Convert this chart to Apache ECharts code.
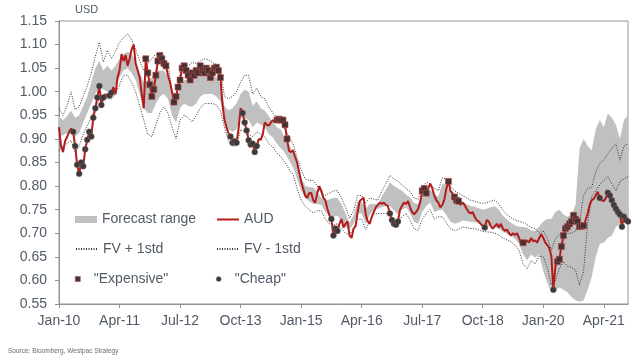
<!DOCTYPE html>
<html><head><meta charset="utf-8">
<script src="https://cdn.jsdelivr.net/npm/echarts@6/dist/echarts.min.js"></script>
<style>html,body{margin:0;padding:0;background:#fff}#c{width:637px;height:360px}</style>
</head><body><div id="c"></div>
<script>
// x axis: months since Jan-2010
const TICK_LABELS = ['Jan-10','Apr-11','Jul-12','Oct-13','Jan-15','Apr-16','Jul-17','Oct-18','Jan-20','Apr-21'];
const TICK_MONTHS = [0,15,30,45,60,75,90,105,120,135];
const AUD_STEP_MONTHS = 0.5;   // AUD sampled twice a month from Jan-10
const FV_STEP_MONTHS = 1;      // fair value / range sampled monthly from Jan-10

const AUD = [
0.925,0.885,0.872,0.895,0.904,0.915,0.922,0.915,0.885,0.845,0.826,0.85,0.842,0.878,0.898,0.915,0.905,0.945,0.965,0.988,1.012,0.972,0.988,0.995,
0.99,0.992,0.998,1.01,0.995,1.03,1.045,1.08,1.065,1.078,1.055,1.07,1.09,1.10,1.06,1.045,1.03,0.995,0.965,1.07,1.04,1.015,0.99,1.005,
1.035,1.065,1.077,1.07,1.06,1.055,1.035,1.02,1.0,0.978,0.99,1.01,1.025,1.05,1.055,1.045,1.035,1.025,1.04,1.035,1.045,1.04,1.055,1.045,
1.04,1.05,1.045,1.03,1.04,1.05,1.052,1.045,1.03,0.975,0.94,0.925,0.912,0.905,0.892,0.895,0.892,0.922,0.965,0.955,0.935,0.918,0.897,0.888,
0.89,0.872,0.885,0.90,0.898,0.91,0.935,0.93,0.928,0.935,0.94,0.935,0.94,0.942,0.94,0.94,0.93,0.90,0.875,0.872,0.876,0.862,0.85,0.83,
0.81,0.795,0.78,0.775,0.785,0.786,0.77,0.765,0.785,0.80,0.79,0.775,0.77,0.752,0.738,0.73,0.695,0.71,0.705,0.72,0.73,0.712,0.72,0.725,
0.695,0.69,0.71,0.715,0.745,0.768,0.772,0.775,0.74,0.725,0.72,0.735,0.745,0.755,0.76,0.765,0.762,0.765,0.76,0.758,0.742,0.728,0.72,0.718,
0.725,0.75,0.758,0.765,0.762,0.768,0.755,0.745,0.74,0.745,0.752,0.765,0.79,0.795,0.785,0.795,0.805,0.795,0.78,0.77,0.765,0.755,0.76,0.772,
0.795,0.81,0.79,0.785,0.777,0.77,0.768,0.76,0.765,0.76,0.752,0.745,0.742,0.745,0.735,0.728,0.725,0.72,0.715,0.712,0.728,0.725,0.715,0.71,
0.715,0.72,0.712,0.72,0.71,0.705,0.708,0.70,0.695,0.70,0.696,0.70,0.69,0.678,0.68,0.678,0.685,0.68,0.69,0.683,0.685,0.68,0.69,0.698,
0.69,0.68,0.675,0.668,0.652,0.58,0.63,0.64,0.645,0.672,0.695,0.71,0.714,0.72,0.725,0.738,0.73,0.725,0.714,0.715,0.716,0.728,0.742,0.76,
0.77,0.773,0.78,0.788,0.775,0.77,0.768,0.775,0.786,0.78,0.77,0.76,0.752,0.745,0.74,0.714,0.735,0.728,0.725
];

const FV_UP = [
0.965,0.95,0.97,1.0,0.962,0.968,0.99,1.012,1.04,1.075,
1.105,1.063,1.088,1.07,1.085,1.105,1.115,1.123,1.11,1.09,
1.065,1.045,1.06,1.07,1.08,1.075,1.07,1.06,1.0,0.98,
1.04,1.058,1.055,1.062,1.06,1.065,1.07,1.068,1.062,1.058,
1.045,0.99,0.985,0.99,1.0,1.02,1.035,1.035,0.995,1.008,
0.99,0.985,0.968,0.955,0.945,0.94,0.92,0.905,0.89,0.86,
0.835,0.815,0.812,0.812,0.80,0.785,0.78,0.785,0.79,0.79,
0.775,0.755,0.732,0.748,0.78,0.78,0.765,0.775,0.772,0.77,
0.79,0.805,0.823,0.815,0.81,0.802,0.795,0.788,0.775,0.772,
0.797,0.808,0.805,0.795,0.79,0.818,0.815,0.80,0.79,0.785,
0.78,0.775,0.77,0.768,0.765,0.763,0.765,0.768,0.77,0.762,
0.748,0.74,0.733,0.728,0.725,0.723,0.718,0.712,0.71,0.70,
0.705,0.69,0.664,0.688,0.698,0.70,0.70,0.70,0.705,0.725,
0.78,0.795,0.797,0.83,0.848,0.855,0.868,0.88,0.89,0.855,
0.885,0.89
];

const FV_DN = [
0.875,0.885,0.89,0.897,0.872,0.885,0.91,0.928,0.945,0.965,
0.985,0.99,0.985,0.985,0.995,1.015,1.035,1.035,1.02,1.0,
0.97,0.94,0.91,0.905,0.93,0.955,0.968,0.955,0.925,0.90,
0.94,0.95,0.945,0.936,0.95,0.965,0.975,0.975,0.975,0.972,
0.96,0.925,0.895,0.885,0.885,0.92,0.915,0.91,0.905,0.915,
0.91,0.905,0.89,0.883,0.87,0.862,0.85,0.836,0.825,0.795,
0.77,0.758,0.75,0.743,0.748,0.748,0.73,0.72,0.718,0.72,
0.71,0.70,0.697,0.71,0.73,0.73,0.708,0.725,0.74,0.742,
0.742,0.742,0.74,0.73,0.725,0.735,0.742,0.728,0.71,0.706,
0.73,0.742,0.75,0.73,0.735,0.735,0.722,0.71,0.706,0.708,
0.713,0.712,0.71,0.71,0.707,0.704,0.703,0.702,0.70,0.696,
0.69,0.686,0.682,0.675,0.664,0.635,0.625,0.642,0.635,0.652,
0.65,0.628,0.59,0.60,0.625,0.64,0.63,0.628,0.622,0.59,
0.62,0.72,0.778,0.79,0.802,0.812,0.82,0.805,0.79,0.81,
0.815,0.82
];

const BAND_LO = [
0.905,0.908,0.912,0.918,0.905,0.912,0.935,0.955,0.975,0.995,
1.01,1.005,1.0,1.0,1.015,1.03,1.045,1.05,1.04,1.025,
0.995,0.965,0.955,0.955,0.975,0.99,0.995,0.985,0.95,0.935,
0.965,0.975,0.97,0.968,0.975,0.99,0.995,0.995,0.995,0.99,
0.98,0.94,0.92,0.915,0.92,0.945,0.945,0.94,0.925,0.935,
0.93,0.925,0.91,0.903,0.89,0.88,0.87,0.855,0.84,0.815,
0.79,0.775,0.768,0.762,0.762,0.76,0.745,0.738,0.735,0.737,
0.726,0.714,0.708,0.72,0.742,0.742,0.72,0.738,0.75,0.752,
0.755,0.758,0.758,0.748,0.74,0.75,0.755,0.742,0.724,0.72,
0.745,0.758,0.765,0.745,0.748,0.75,0.738,0.725,0.72,0.722,
0.727,0.726,0.724,0.724,0.72,0.717,0.716,0.715,0.713,0.709,
0.703,0.699,0.695,0.688,0.678,0.655,0.643,0.655,0.648,0.655,
0.62,0.595,0.575,0.58,0.585,0.58,0.575,0.565,0.558,0.555,
0.558,0.58,0.607,0.65,0.678,0.68,0.69,0.695,0.713,0.72,
0.73,0.74
];

const BAND_HI = [
0.947,0.94,0.948,0.96,0.945,0.95,0.97,0.99,1.02,1.05,
1.065,1.045,1.055,1.045,1.055,1.07,1.08,1.085,1.08,1.065,
1.04,1.02,1.025,1.03,1.045,1.045,1.045,1.03,0.99,0.97,
1.01,1.025,1.025,1.03,1.03,1.035,1.04,1.04,1.035,1.03,
1.015,0.97,0.96,0.965,0.975,0.995,1.005,1.0,0.97,0.98,
0.965,0.96,0.948,0.935,0.925,0.92,0.90,0.888,0.872,0.842,
0.818,0.80,0.798,0.797,0.788,0.775,0.768,0.772,0.775,0.775,
0.762,0.742,0.722,0.738,0.768,0.767,0.752,0.762,0.762,0.762,
0.778,0.792,0.808,0.80,0.795,0.79,0.782,0.776,0.764,0.762,
0.785,0.795,0.792,0.782,0.778,0.805,0.802,0.788,0.778,0.772,
0.768,0.762,0.758,0.756,0.753,0.75,0.752,0.755,0.757,0.75,
0.737,0.729,0.722,0.717,0.714,0.713,0.712,0.706,0.705,0.715,
0.725,0.73,0.73,0.745,0.75,0.74,0.735,0.74,0.76,0.88,
0.90,0.885,0.876,0.92,0.94,0.925,0.954,0.945,0.93,0.90,
0.94,0.95
];

// indices into AUD flagged as "Expensive" / "Cheap"
const EXPENSIVE_IDX = [43,44,45,46,47,48,49,50,51,52,53,
57,58,59,60,61,62,63,64,65,66,67,68,69,70,71,72,73,74,75,76,77,78,79,80,
108,109,110,111,112,113,180,181,182,193,196,197,198,230,
247,248,249,250,251,252,253,254,255,256,257,258,259,260];
const CHEAP_IDX = [7,8,9,10,11,12,13,14,15,16,17,18,19,20,21,22,25,26,
85,86,87,88,91,92,93,94,95,96,97,98,135,136,137,138,164,165,166,167,168,
211,245,268,272,273,274,275,276,277,278,279,280,281,282];

const FONT = '"Liberation Sans", Arial, sans-serif';
const TXT = '#515a66';
const AX = '#8d949e';
const EXP_STYLE = {color: '#463232', borderColor: '#b84a46', borderWidth: 0.6, opacity: 1};
const CHEAP_STYLE = {color: '#3a3a3a', borderColor: '#9c6a6a', borderWidth: 0.4, opacity: 1};
const NO_SYMBOL = {color: 'rgba(0,0,0,0)', borderWidth: 0, opacity: 0};

const audData = AUD.map((v, i) => [i * AUD_STEP_MONTHS, v]);
const fvUpData = FV_UP.map((v, i) => [i * FV_STEP_MONTHS, v]);
const fvDnData = FV_DN.map((v, i) => [i * FV_STEP_MONTHS, v]);
const expData = EXPENSIVE_IDX.map(i => [i * AUD_STEP_MONTHS, AUD[i]]);
const cheapData = CHEAP_IDX.map(i => [i * AUD_STEP_MONTHS, AUD[i]]);

const chart = echarts.init(document.getElementById('c'), null, {renderer: 'canvas'});
const legendBase = {
  orient: 'horizontal', itemWidth: 22, itemHeight: 7, padding: 0, itemGap: 0,
  selectedMode: false,
  textStyle: {fontSize: 14, color: TXT, fontFamily: FONT, lineHeight: 14}
};
chart.setOption({
  animation: false,
  backgroundColor: '#fff',
  grid: {left: 59, right: 9, top: 21, bottom: 56, show: true, borderColor: AX, borderWidth: 1},
  xAxis: {
    type: 'value', min: 0, max: 141, interval: 15,
    axisLine: {show: true, lineStyle: {color: AX, width: 1}},
    axisTick: {show: true, length: 4, lineStyle: {color: AX}, customValues: TICK_MONTHS},
    splitLine: {show: false},
    axisLabel: {
      customValues: TICK_MONTHS, margin: 10, fontSize: 14, color: TXT, fontFamily: FONT,
      formatter: v => { const k = TICK_MONTHS.indexOf(Math.round(v)); return k >= 0 ? TICK_LABELS[k] : ''; }
    }
  },
  yAxis: {
    type: 'value', min: 0.55, max: 1.15, interval: 0.05,
    axisLine: {show: true, lineStyle: {color: AX, width: 1}},
    axisTick: {show: true, length: 4, lineStyle: {color: AX}},
    splitLine: {show: false},
    axisLabel: {margin: 12, fontSize: 14, color: TXT, fontFamily: FONT, formatter: v => v.toFixed(2)}
  },
  legend: [
    Object.assign({}, legendBase, {left: 75, top: 212.5, data: [{name: 'Forecast range', icon: 'rect'}]}),
    Object.assign({}, legendBase, {left: 216, top: 212.5, data: [{name: 'AUD', itemStyle: NO_SYMBOL}]}),
    Object.assign({}, legendBase, {left: 75, top: 242, data: [{name: 'FV + 1std', itemStyle: NO_SYMBOL}]}),
    Object.assign({}, legendBase, {left: 216, top: 242, data: [{name: 'FV - 1std', itemStyle: NO_SYMBOL}]}),
    Object.assign({}, legendBase, {left: 75, top: 272, itemHeight: 5, data: [{name: '"Expensive"', icon: 'path://M0,0h10v10h-10z', itemStyle: EXP_STYLE}]}),
    Object.assign({}, legendBase, {left: 216, top: 272, itemHeight: 5, data: [{name: '"Cheap"', icon: 'circle', itemStyle: CHEAP_STYLE}]})
  ],
  graphic: [
    {type: 'text', left: 75, top: 4, style: {text: 'USD', fontSize: 11, fill: TXT, fontFamily: FONT}},
    {type: 'text', left: 8, top: 348, style: {text: 'Source: Bloomberg, Westpac Strategy', fontSize: 6.5, fill: '#6b6b6b', fontFamily: FONT}}
  ],
  series: [
    {
      name: 'Forecast range', type: 'custom', coordinateSystem: 'cartesian2d', z: 1,
      itemStyle: {color: '#c0c0c0'},
      data: [[0, BAND_LO[0]]],
      encode: {x: 0, y: 1},
      renderItem: function (params, api) {
        const pts = [];
        for (let m = 0; m < BAND_HI.length; m++) pts.push(api.coord([m * FV_STEP_MONTHS, BAND_HI[m]]));
        for (let m = BAND_LO.length - 1; m >= 0; m--) pts.push(api.coord([m * FV_STEP_MONTHS, BAND_LO[m]]));
        return {type: 'polygon', shape: {points: pts}, style: {fill: '#c0c0c0'}};
      }
    },
    {name: 'FV + 1std', type: 'line', data: fvUpData, symbol: 'none', z: 2,
      lineStyle: {color: '#333333', width: 1, type: [1, 1.5]}, itemStyle: {color: '#333333'}},
    {name: 'FV - 1std', type: 'line', data: fvDnData, symbol: 'none', z: 2,
      lineStyle: {color: '#333333', width: 1, type: [1, 1.5]}, itemStyle: {color: '#333333'}},
    {name: 'AUD', type: 'line', data: audData, symbol: 'none', z: 3,
      lineStyle: {color: '#b31b1b', width: 2}, itemStyle: {color: '#b31b1b'}},
    {name: '"Expensive"', type: 'scatter', data: expData, symbol: 'rect', symbolSize: 6, z: 4, itemStyle: EXP_STYLE},
    {name: '"Cheap"', type: 'scatter', data: cheapData, symbol: 'circle', symbolSize: 6, z: 4, itemStyle: CHEAP_STYLE}
  ]
});
</script>
</body></html>
